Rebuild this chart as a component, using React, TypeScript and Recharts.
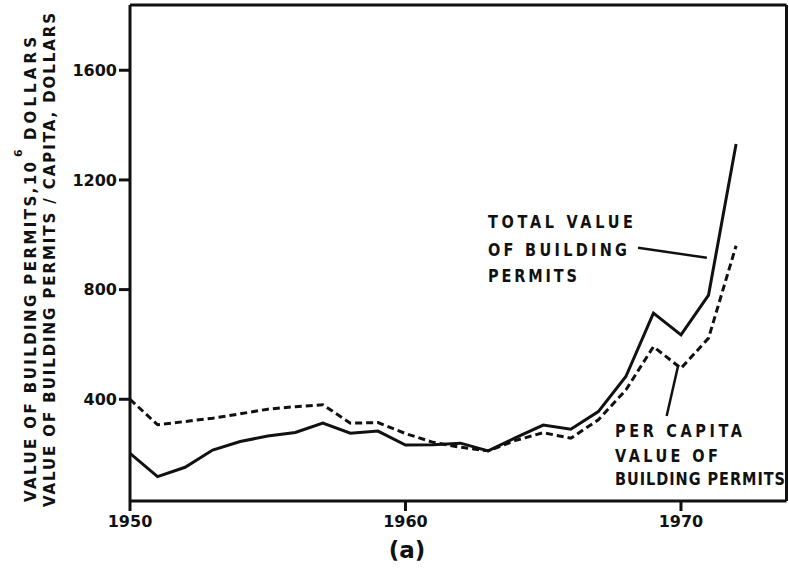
import React from 'react';
import { LineChart, Line, XAxis, YAxis, ReferenceLine } from 'recharts';

// Building permit values
const years = [
  1950, 1951, 1952, 1953, 1954, 1955, 1956, 1957, 1958, 1959, 1960, 1961,
  1962, 1963, 1964, 1965, 1966, 1967, 1968, 1969, 1970, 1971, 1972,
];
const totalValue = [
  203, 118, 152, 215, 246, 266, 279, 313, 276, 284, 233, 234,
  240, 212, 260, 306, 291, 355, 483, 714, 635, 780, 1331,
];
const perCapitaValue = [
  400, 307, 319, 331, 347, 364, 373, 380, 313, 315, 275, 243,
  225, 212, 250, 278, 258, 325, 434, 592, 513, 623, 960,
];
const xTicks = [1950, 1960, 1970];
const yTicks = [400, 800, 1200, 1600];

const X_MAX = 1973.83;
const Y_MIN = 29;
const Y_MAX = 1838;

const data = years.map((year, i) => ({
  year,
  total: totalValue[i],
  perCapita: perCapitaValue[i],
}));

const FONT = '"DejaVu Sans", Verdana, sans-serif';
const INK = '#111';

const tickStyle = { fontFamily: FONT, fontSize: 16, fontWeight: 700, fill: INK };

// rotated text for the y axis title
const VText = ({ x, y, len, size = 15, children }: any) => (
  <text
    transform={`translate(${x},${y}) rotate(-90)`}
    fontFamily={FONT}
    fontSize={size}
    fontWeight={700}
    fill={INK}
    textLength={len}
    lengthAdjust="spacing"
  >
    {children}
  </text>
);

const Note = ({ x, y, len, children }: any) => (
  <text
    transform={`translate(${x},${y}) scale(1,1.2)`}
    fontFamily={FONT}
    fontSize={14.5}
    fontWeight={700}
    fill={INK}
    textLength={len}
    lengthAdjust="spacing"
  >
    {children}
  </text>
);

export default function App() {
  return (
    <div style={{ position: 'absolute', left: 0, top: 0, width: 789, height: 571, background: '#fff' }}>
      <LineChart
        width={789}
        height={571}
        data={data}
        margin={{ top: 5, right: 2.5, bottom: 0, left: 0 }}
      >
        <XAxis
          dataKey="year"
          type="number"
          domain={[1950, X_MAX]}
          ticks={xTicks}
          height={70}
          tickSize={10}
          tickMargin={5}
          axisLine={{ stroke: INK, strokeWidth: 3 }}
          tickLine={{ stroke: INK, strokeWidth: 3 }}
          tick={tickStyle}
          allowDataOverflow
        />
        <YAxis
          type="number"
          domain={[Y_MIN, Y_MAX]}
          ticks={yTicks}
          width={130}
          tickSize={11}
          tickMargin={2}
          axisLine={{ stroke: INK, strokeWidth: 3 }}
          tickLine={{ stroke: INK, strokeWidth: 3 }}
          tick={tickStyle}
          allowDataOverflow
        />
        {/* top and right frame */}
        <ReferenceLine y={Y_MAX} stroke={INK} strokeWidth={3} ifOverflow="visible" />
        <ReferenceLine x={X_MAX} stroke={INK} strokeWidth={3} ifOverflow="visible" />
        <Line
          dataKey="perCapita"
          type="linear"
          stroke={INK}
          strokeWidth={3}
          strokeDasharray="7 4"
          dot={false}
          isAnimationActive={false}
        />
        <Line
          dataKey="total"
          type="linear"
          stroke={INK}
          strokeWidth={3}
          dot={false}
          isAnimationActive={false}
        />
        {/* leader lines from the labels to the curves */}
        <ReferenceLine
          segment={[{ x: 1968.44, y: 953 }, { x: 1970.94, y: 916 }]}
          stroke={INK}
          strokeWidth={2.5}
        />
        <ReferenceLine
          segment={[{ x: 1969.48, y: 339 }, { x: 1969.9, y: 524 }]}
          stroke={INK}
          strokeWidth={2.5}
        />
      </LineChart>
      <svg
        width={789}
        height={571}
        style={{ position: 'absolute', left: 0, top: 0, pointerEvents: 'none' }}
      >
        <VText x={35.5} y={502} len={340}>VALUE OF BUILDING PERMITS,10</VText>
        <VText x={22} y={157} len={9} size={11}>6</VText>
        <VText x={35.5} y={140} len={103}>DOLLARS</VText>
        <VText x={54.5} y={507} len={494}>VALUE OF BUILDING PERMITS / CAPITA, DOLLARS</VText>

        <Note x={488} y={228} len={145}>TOTAL VALUE</Note>
        <Note x={488} y={256} len={139}>OF BUILDING</Note>
        <Note x={488} y={282} len={89}>PERMITS</Note>

        <Note x={615} y={437} len={127}>PER CAPITA</Note>
        <Note x={615} y={462} len={103}>VALUE OF</Note>
        <Note x={615} y={485} len={170}>BUILDING PERMITS</Note>

        <text x={407} y={558} textAnchor="middle" fontFamily={FONT} fontSize={23} fontWeight={700} fill={INK}>
          (a)
        </text>
      </svg>
    </div>
  );
}
